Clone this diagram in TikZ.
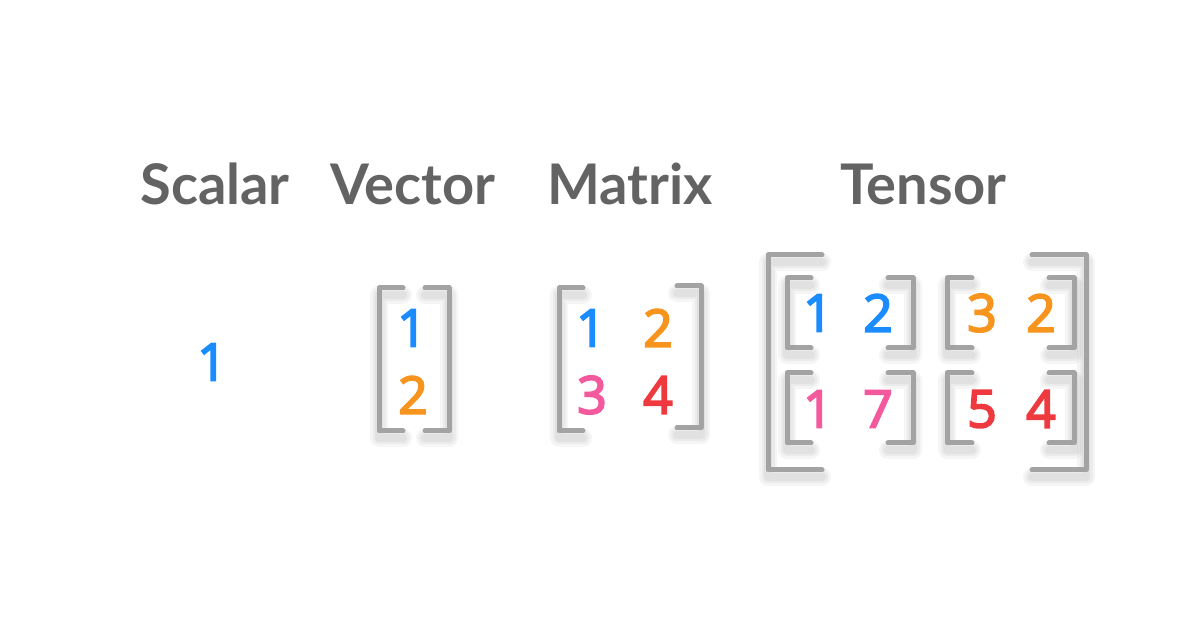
\documentclass[tikz,border=0pt]{standalone}
\usepackage{fontspec}
\setmainfont{Lato}
\newfontfamily\digitfont[FakeBold=3.5]{Open Sans}

\definecolor{labelgray}{HTML}{636363}
\definecolor{brackgray}{HTML}{A3A3A3}
\definecolor{numblue}{HTML}{1A8CFF}
\definecolor{numorange}{HTML}{F7941D}
\definecolor{numpink}{HTML}{F4599E}
\definecolor{numred}{HTML}{EE3A3F}

\tikzset{every picture/.style={line width=0.75pt}}
\tikzset{
  title/.style={anchor=base, inner sep=0pt, text=labelgray, font=\fontsize{42}{42}\selectfont\bfseries},
  num/.style={inner sep=0pt, font=\digitfont\fontsize{39}{39}\selectfont},
  brack/.style={draw=brackgray, line width=3.75pt, line cap=round, line join=round},
  brackshade/.style={draw=black, draw opacity=0.04, line cap=round, line join=round},
}

% #1 x of the upright, #2 x where the serifs end, #3 top y, #4 bottom y
\newcommand{\sqbrk}[4]{%
  \foreach \w in {18,13,8}{%
    \draw[brackshade, line width=\w*0.75pt] (#2,#3+7) -- (#1,#3+7) -- (#1,#4+7) -- (#2,#4+7);
  }
  \draw[brack] (#2,#3) -- (#1,#3) -- (#1,#4) -- (#2,#4);
}

\begin{document}
\begin{tikzpicture}[x=0.75pt,y=0.75pt,yscale=-1,xscale=1]
\path[use as bounding box, fill=white] (0,0) rectangle (1200,630);

% Titles
\node[title] (scalar) at (215,205) {Scalar};
\node[title] (vector) at (413,205) {Vector};
\node[title] (matrix) at (630,205) {Matrix};
\node[title] (tensor) at (923,205) {Tensor};

% Scalar
\node[num, text=numblue] (s1) at (212,362) {1};

% Vector
\sqbrk{379}{403}{288}{431}
\sqbrk{449}{425}{288}{431}
\node[num, text=numblue] (v1) at (412,328) {1};
\node[num, text=numorange] (v2) at (413,395) {2};

% Matrix
\sqbrk{559}{583}{288}{431}
\sqbrk{701}{677}{286}{428}
\node[num, text=numblue] (m11) at (591,328) {1};
\node[num, text=numorange] (m12) at (658,328) {2};
\node[num, text=numpink] (m21) at (592,395) {3};
\node[num, text=numred] (m22) at (658,395) {4};

% Tensor
\sqbrk{768}{822}{255}{470}
\sqbrk{1086}{1032}{255}{470}
\sqbrk{787}{811}{278}{348}
\sqbrk{913}{888}{278}{348}
\sqbrk{947}{972}{278}{348}
\sqbrk{1074}{1049}{278}{348}
\sqbrk{787}{811}{373}{443}
\sqbrk{913}{888}{373}{443}
\sqbrk{947}{972}{373}{443}
\sqbrk{1074}{1049}{373}{443}
\node[num, text=numblue] (t111) at (818,313) {1};
\node[num, text=numblue] (t112) at (878,313) {2};
\node[num, text=numorange] (t121) at (982,313) {3};
\node[num, text=numorange] (t122) at (1041,313) {2};
\node[num, text=numpink] (t211) at (818,409) {1};
\node[num, text=numpink] (t212) at (878,409) {7};
\node[num, text=numred] (t221) at (982,409) {5};
\node[num, text=numred] (t222) at (1041,409) {4};

\end{tikzpicture}
\end{document}
